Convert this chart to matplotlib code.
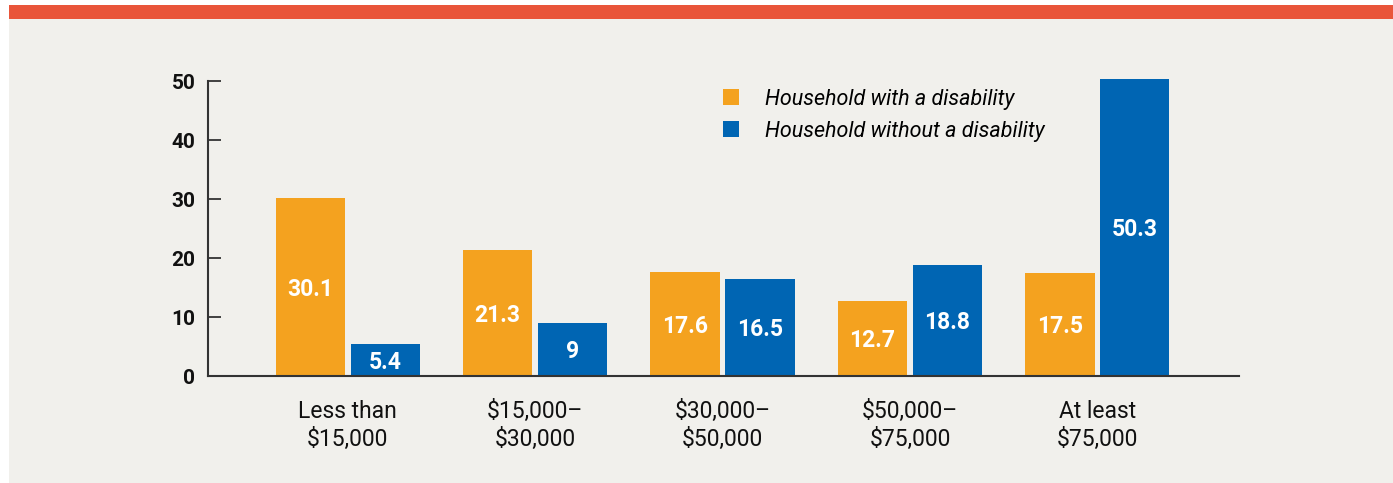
import matplotlib
matplotlib.use("Agg")
import matplotlib.pyplot as plt
from matplotlib.patches import Rectangle, Patch
import numpy as np

categories = ["Less than\n$15,000", "$15,000–\n$30,000", "$30,000–\n$50,000", "$50,000–\n$75,000", "At least\n$75,000"]
with_disability = [30.1, 21.3, 17.6, 12.7, 17.5]
without_disability = [5.4, 9, 16.5, 18.8, 50.3]
with_labels = ["30.1", "21.3", "17.6", "12.7", "17.5"]
without_labels = ["5.4", "9", "16.5", "18.8", "50.3"]
series_names = ["Household with a disability", "Household without a disability"]
yticks = [0, 10, 20, 30, 40, 50]

ORANGE = "#F4A21F"
BLUE = "#0065B3"
RED = "#E9553A"
PANEL = "#F1F0EC"
AXC = "#333333"

plt.rcParams['font.family'] = ['Roboto', 'DejaVu Sans']

W, H = 1393, 483
fig = plt.figure(figsize=(W / 100, H / 100), dpi=100, facecolor="white")

# background panel and top red band
fig.patches.append(Rectangle((9 / W, 0), (W - 9) / W, 1 - 19 / H, transform=fig.transFigure,
                             facecolor=PANEL, edgecolor="none", zorder=-10))
fig.patches.append(Rectangle((9 / W, 1 - 19 / H), (W - 9) / W, 14 / H, transform=fig.transFigure,
                             facecolor=RED, edgecolor="none", zorder=-10))

left, right = 208 / W, 1239 / W
bottom, top = 1 - 376 / H, 1 - 77.5 / H
ax = fig.add_axes([left, bottom, right - left, top - bottom])
ax.set_facecolor("none")
ax.set_zorder(1)

x = np.arange(len(categories))
bw = 0.37
off = 0.2
b1 = ax.bar(x - off, with_disability, bw, color=ORANGE, zorder=2)
b2 = ax.bar(x + off, without_disability, bw, color=BLUE, zorder=2)

for rect, lab in zip(list(b1) + list(b2), with_labels + without_labels):
    h = rect.get_height()
    ax.text(rect.get_x() + rect.get_width() / 2, h / 2 - 0.35, lab, ha="center", va="center",
            color="white", fontsize=16.5, fontweight="bold", zorder=3)

ax.set_xlim(-0.746, 4.756)
ax.set_ylim(0, 50.6)
ax.set_xticks(x)
ax.set_xticklabels(categories, fontsize=16.5, color="#111111", linespacing=1.28)
ax.set_yticks(yticks)
ax.set_yticklabels([str(t) for t in yticks], fontsize=15, fontweight="bold", color="#111111")

for s in ["top", "right"]:
    ax.spines[s].set_visible(False)
for s in ["left", "bottom"]:
    ax.spines[s].set_color(AXC)
    ax.spines[s].set_linewidth(1.5)
ax.spines["left"].set_bounds(0, 50)

ax.tick_params(axis="y", direction="in", length=9, width=1.3, color=AXC, pad=9)
ax.tick_params(axis="x", length=0, pad=17)

handles = [Patch(facecolor=ORANGE, edgecolor="none"), Patch(facecolor=BLUE, edgecolor="none")]
fs = 15.5
fig.legend(handles, series_names, loc="upper left", bbox_to_anchor=(722.7 / W, 1 - 88.5 / H),
           frameon=False, borderpad=0, borderaxespad=0, handlelength=0.744, handleheight=0.744,
           handletextpad=1.24, labelspacing=0.52,
           prop={"family": "Roboto", "style": "italic", "size": fs})

fig.savefig("out.png", dpi=100, facecolor="white")
